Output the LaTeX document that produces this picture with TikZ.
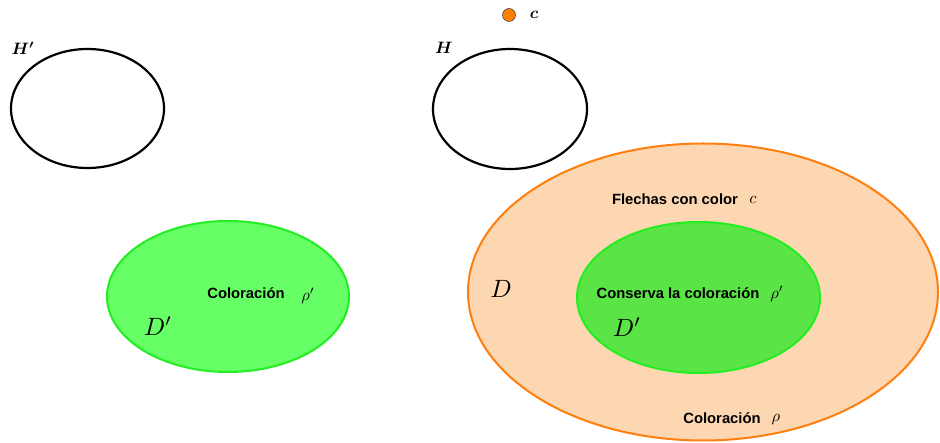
\documentclass[tikz,border=0pt]{standalone}
\usepackage{amsmath,amssymb,bm}
\usepackage{fontspec}
\setsansfont{Liberation Sans}
\definecolor{orangeline}{HTML}{FF7F0E}
\definecolor{orangefill}{HTML}{FDD6B2}
\definecolor{greenline}{HTML}{22EE22}
\definecolor{greenfill}{HTML}{66FF66}
\definecolor{greendark}{HTML}{5BE446}
\definecolor{dotfill}{HTML}{FF7F00}
\tikzset{
  hgraph/.style={draw=black, line width=2.2pt},
  label/.style={font=\sffamily\bfseries\fontsize{14.8}{17}\selectfont, inner sep=0pt},
  mth/.style={scale=1.65, inner sep=0pt},
  big/.style={scale=2.5, inner sep=0pt},
}
\begin{document}
\begin{tikzpicture}[x=1pt,y=-1pt]
\useasboundingbox (0,0) rectangle (940,443);
% H' and H
\draw[hgraph] (87.5,108.5) ellipse (76.5 and 59.5);
\node[mth] (Hp) at (23,48) {$\bm{H'}$};
\draw[hgraph] (510,109) ellipse (77 and 60);
\node[mth] (H) at (444,48) {$\bm{H}$};
% color dot
\node[circle, draw=black!70, fill=dotfill, minimum size=13pt, inner sep=0pt, line width=0.6pt] (dot) at (509,15) {};
\node[mth] (c) at (534,15) {$\bm{c}$};
% left D'
\draw[greenline, fill=greenfill, line width=2pt] (228,296.5) ellipse (121 and 75.5);
\node[label] (col1) at (246,293) {Coloración};
\node[mth] (rho1) at (308,296) {$\rho'$};
\node[big] (Dp1) at (158,326) {$D'$};
% right D
\draw[orangeline, fill=orangefill, line width=2pt] (703,292) ellipse (235 and 148.5);
\draw[greenline, fill=greendark, line width=2pt] (698.5,297.5) ellipse (121.5 and 75.5);
\node[label] (fl) at (675,199) {Flechas con color};
\node[mth] (c2) at (753,200) {$c$};
\node[big] (D) at (501,289) {$D$};
\node[label] (cons) at (678,293) {Conserva la coloración};
\node[mth] (rho2) at (777,294) {$\rho'$};
\node[big] (Dp2) at (627,327) {$D'$};
\node[label] (col2) at (722,418) {Coloración};
\node[mth] (rho3) at (776,420) {$\rho$};
\end{tikzpicture}
\end{document}
